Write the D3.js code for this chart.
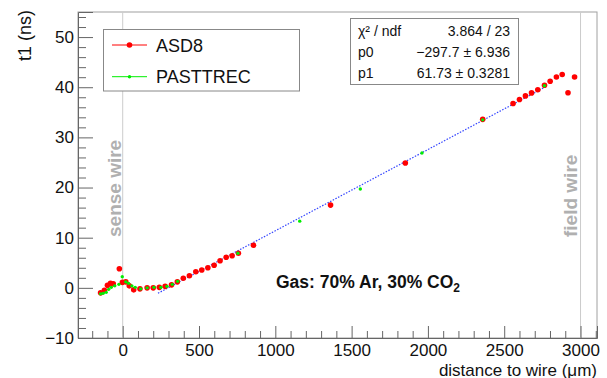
<!DOCTYPE html>
<html>
<head>
<meta charset="utf-8">
<script src="https://cdn.jsdelivr.net/npm/d3@7"></script>
<style>
  body { margin: 0; background: #fff; }
  svg { display: block; font-family: "Liberation Sans", Arial, Helvetica, sans-serif; }
</style>
</head>
<body>
<div id="root"></div>
<script>
const width = 607;
const height = 378;

// ASD8 (red)
const asd8X = [-145, -120, -100, -80, -62, -22, -2, 20, 43, 72, 113, 160, 200, 240, 278, 320, 358,
  397, 437, 479, 518, 558, 599, 638, 678, 717, 758, 857, 1362, 1852, 2359,
  2558, 2600, 2639, 2679, 2720, 2764, 2801, 2842, 2880, 2918, 2961];
const asd8Y = [-1.0, -0.5, 0.5, 0.9, 0.8, 3.8, 1.1, 1.2, 0.4, -0.4, -0.2, 0.0, 0.0, 0.1, 0.3, 0.6, 1.2,
  1.9, 2.4, 3.2, 3.55, 4.0, 4.5, 5.4, 6.1, 6.4, 6.9, 8.5, 16.5, 24.9, 33.6,
  36.75, 37.55, 38.27, 38.87, 39.5, 40.4, 41.2, 42.05, 42.55, 38.9, 42.05];

// PASTTREC (green)
const pastX = [-145, -128, -108, -92, -75, -52, -25, -3, 20, 38, 60, 82, 118, 160, 205, 250, 290,
  325, 360, 755, 1160, 1557, 1961, 2359, 2764];
const pastY = [-1.2, -1.1, -0.9, -0.3, 0.1, 0.4, 0.7, 2.2, 1.2, 0.9, 0.4, 0.1, -0.2, 0.0, 0.1, 0.1, 0.3,
  0.7, 1.3, 6.9, 13.3, 19.7, 26.9, 33.5, 40.3];

// fit line end points (x in um, t1 in ns)
const fitX = [231, 2765];
const fitY = [-1.08, 39.97];

const statLabels = ["\u03c7\u00b2 / ndf", "p0", "p1"];
const statValues = ["3.864 / 23", "\u2212297.7 \u00b1 6.936", "61.73 \u00b1 0.3281"];

const legendNames = ["ASD8", "PASTTREC"];
const legendColors = ["#ff0000", "#00ee00"];

const xTicks = [0, 500, 1000, 1500, 2000, 2500, 3000];
const yTicks = [-10, 0, 10, 20, 30, 40, 50];
const wireX = [0, 3000];
const wireNames = ["sense wire", "field wire"];

const plotLeft = 78, plotRight = 597, plotTop = 12, plotBottom = 338;

const svg = d3.select("#root").append("svg")
  .attr("width", width)
  .attr("height", height);

const x = d3.scaleLinear().domain([-293, 3108]).range([plotLeft, plotRight]);
const y = d3.scaleLinear().domain([-10, 55]).range([plotBottom, plotTop]);

// frame
svg.append("rect")
  .attr("x", plotLeft).attr("y", plotTop)
  .attr("width", plotRight - plotLeft).attr("height", plotBottom - plotTop)
  .attr("fill", "none").attr("stroke", "#a0a0a0");

// wire lines
svg.selectAll(".wire")
  .data(wireX)
  .enter()
  .append("line")
  .attr("class", "wire")
  .attr("x1", d => x(d)).attr("x2", d => x(d))
  .attr("y1", plotTop).attr("y2", plotBottom)
  .attr("stroke", "#cccccc");

svg.selectAll(".wiretext")
  .data(wireNames)
  .enter()
  .append("text")
  .attr("class", "wiretext")
  .attr("transform", (d, i) => "translate(" + (x(wireX[i]) - (i === 0 ? 2 : 4)) + ",237) rotate(-90)")
  .attr("font-size", "19px")
  .attr("font-weight", "bold")
  .attr("fill", "#b0b0b0")
  .text(d => d);

// axes
const xAxis = svg.append("g")
  .attr("transform", "translate(0," + plotBottom + ")")
  .call(d3.axisBottom(x).tickValues(xTicks).tickSize(-12).tickPadding(6).tickFormat(d3.format("d")));
const xMinor = svg.append("g")
  .attr("transform", "translate(0," + plotBottom + ")")
  .call(d3.axisBottom(x).tickValues(d3.range(-200, 3101, 100).filter(v => v % 500 !== 0)).tickSize(-7).tickFormat(""));
const yAxis = svg.append("g")
  .attr("transform", "translate(" + plotLeft + ",0)")
  .call(d3.axisLeft(y).tickValues(yTicks).tickSize(-15).tickPadding(4));
const yMinor = svg.append("g")
  .attr("transform", "translate(" + plotLeft + ",0)")
  .call(d3.axisLeft(y).tickValues(d3.range(-8, 55, 2).filter(v => v % 10 !== 0)).tickSize(-8).tickFormat(""));

[xAxis, xMinor, yAxis, yMinor].forEach(g => {
  g.select(".domain").attr("stroke", "#666");
  g.selectAll(".tick line").attr("stroke", "#666");
  g.selectAll("text").attr("font-size", "17px").attr("fill", "#111").attr("font-family", null);
});
xMinor.select(".domain").remove();
yMinor.select(".domain").remove();

// axis titles
svg.append("text")
  .attr("transform", "translate(31,10) rotate(-90)")
  .attr("text-anchor", "end")
  .attr("font-size", "18px")
  .attr("fill", "#111")
  .text("t1 (ns)");

svg.append("text")
  .attr("x", 597)
  .attr("y", 375.5)
  .attr("text-anchor", "end")
  .attr("font-size", "17px")
  .attr("fill", "#111")
  .text("distance to wire (\u03bcm)");

// fit line
svg.append("line")
  .attr("x1", x(fitX[0])).attr("y1", y(fitY[0]))
  .attr("x2", x(fitX[1])).attr("y2", y(fitY[1]))
  .attr("stroke", "#3344ff")
  .attr("stroke-width", 1.2)
  .attr("stroke-dasharray", "1.5,1.5");

// points
const asd8 = asd8X.map((v, i) => [v, asd8Y[i]]);
const past = pastX.map((v, i) => [v, pastY[i]]);

svg.append("g").selectAll("circle")
  .data(asd8)
  .enter()
  .append("circle")
  .attr("cx", d => x(d[0]))
  .attr("cy", d => y(d[1]))
  .attr("r", 2.8)
  .attr("fill", "#ff0000");

svg.append("g").selectAll("circle")
  .data(past)
  .enter()
  .append("circle")
  .attr("cx", d => x(d[0]))
  .attr("cy", d => y(d[1]))
  .attr("r", 1.7)
  .attr("fill", "#00ee00");

// gas text
const gas = svg.append("text")
  .attr("x", 276)
  .attr("y", 288)
  .attr("font-size", "17.5px")
  .attr("font-weight", "bold")
  .attr("fill", "#111")
  .text("Gas: 70% Ar, 30% CO");
gas.append("tspan")
  .attr("dy", 4)
  .attr("font-size", "12px")
  .text("2");

// legend
const legend = svg.append("g").attr("id", "legend");
legend.append("rect")
  .attr("x", 103.5).attr("y", 29.5)
  .attr("width", 196).attr("height", 61.5)
  .attr("fill", "#fff").attr("stroke", "#888");

const legendY = [45, 76.7];
legend.selectAll(".lline")
  .data(legendNames)
  .enter()
  .append("line")
  .attr("x1", 112).attr("x2", 147)
  .attr("y1", (d, i) => legendY[i]).attr("y2", (d, i) => legendY[i])
  .attr("stroke", (d, i) => legendColors[i]);
legend.selectAll(".lmark")
  .data(legendNames)
  .enter()
  .append("circle")
  .attr("cx", 129.5)
  .attr("cy", (d, i) => legendY[i])
  .attr("r", (d, i) => i === 0 ? 2.8 : 1.7)
  .attr("fill", (d, i) => i === 0 ? "#ff0000" : "#00ee00");
legend.selectAll(".ltext")
  .data(legendNames)
  .enter()
  .append("text")
  .attr("x", 156)
  .attr("y", (d, i) => legendY[i] + 6.5)
  .attr("font-size", "18px")
  .attr("fill", "#111")
  .text(d => d);

// stats box
const stats = svg.append("g");
stats.append("rect")
  .attr("x", 350.5).attr("y", 18.5)
  .attr("width", 168).attr("height", 66)
  .attr("fill", "#fff").attr("stroke", "#888");
const statY = [35.5, 56.5, 77.5];
stats.selectAll(".slabel")
  .data(statLabels)
  .enter()
  .append("text")
  .attr("x", 358)
  .attr("y", (d, i) => statY[i])
  .attr("font-size", "14px")
  .attr("fill", "#111")
  .text(d => d);
stats.selectAll(".svalue")
  .data(statValues)
  .enter()
  .append("text")
  .attr("x", 510)
  .attr("y", (d, i) => statY[i])
  .attr("text-anchor", "end")
  .attr("font-size", "14px")
  .attr("fill", "#111")
  .text(d => d);
</script>
</body>
</html>
